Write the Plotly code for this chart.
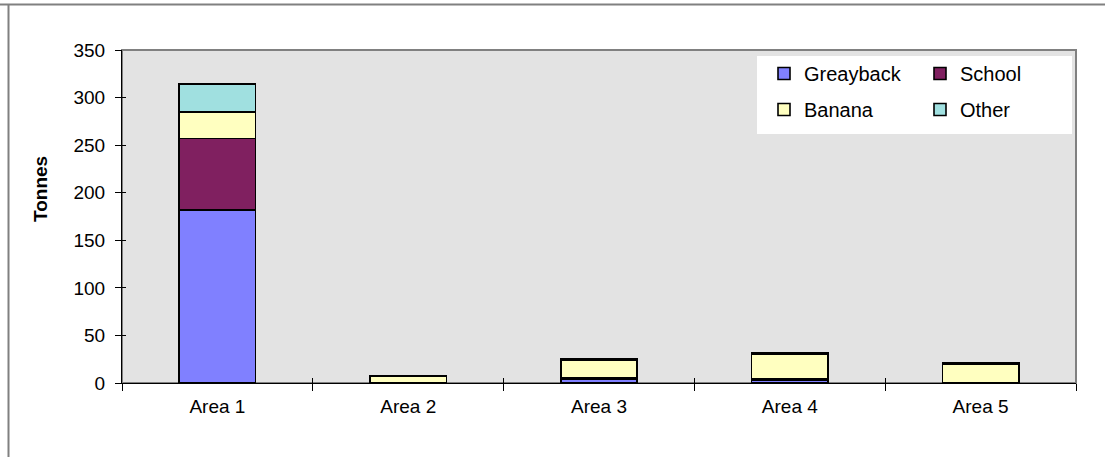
import plotly.graph_objects as go

# Catch by area, split by category (tonnes)
areas = ["Area 1", "Area 2", "Area 3", "Area 4", "Area 5"]
greayback = [182, 0.5, 4, 3, 0]
school = [75, 0, 1, 1, 0.5]
banana = [28, 7, 19, 26, 19.5]
other = [29, 0.5, 1.5, 1.5, 1]

y_ticks = [0, 50, 100, 150, 200, 250, 300, 350]

series = [
    ("Greayback", greayback, "#8080ff", "legend"),
    ("School", school, "#802060", "legend2"),
    ("Banana", banana, "#ffffc0", "legend"),
    ("Other", other, "#a0e0e0", "legend2"),
]

W, H = 1105, 457
ML, MR, MT, MB = 122, 29, 50, 74
PW, PH = W - ML - MR, H - MT - MB


def px_x(px):
    return (px - ML) / PW


def px_y(py):
    return (H - MB - py) / PH


FONT = "Liberation Sans, Arial, sans-serif"
FS = 19

fig = go.Figure()
for name, vals, color, leg in series:
    fig.add_trace(go.Bar(
        name=name, x=areas, y=vals,
        marker=dict(color=color, line=dict(color="black", width=1.6)),
        legend=leg, legendgroup=name,
    ))

# overlay axes carrying the inward half of the cross ticks
fig.add_trace(go.Scatter(x=[None], y=[None], xaxis="x2", yaxis="y2",
                         showlegend=False, hoverinfo="skip"))

fig.update_layout(
    width=W, height=H, autosize=False,
    margin=dict(l=ML, r=MR, t=MT, b=MB),
    paper_bgcolor="white", plot_bgcolor="#e3e3e3",
    barmode="stack", bargap=0.6,
    font=dict(family=FONT, size=FS, color="black"),
    showlegend=True,
    xaxis=dict(
        type="category", tickson="boundaries",
        ticks="outside", ticklen=7, tickwidth=1, tickcolor="black",
        showline=True, linecolor="black", linewidth=1,
        showgrid=False, zeroline=False, ticklabelstandoff=6,
        tickfont=dict(size=FS),
    ),
    yaxis=dict(
        range=[0, 350], tickvals=y_ticks,
        ticks="outside", ticklen=6, tickwidth=1, tickcolor="black",
        showline=True, linecolor="black", linewidth=1,
        showgrid=False, zeroline=False, ticklabelstandoff=6,
        tickfont=dict(size=FS),
    ),
    xaxis2=dict(
        overlaying="x", range=[-0.5, 4.5], tickvals=[0.5, 1.5, 2.5, 3.5],
        ticks="inside", ticklen=5, tickcolor="black", showticklabels=False,
        showline=False, showgrid=False, zeroline=False, side="bottom",
    ),
    yaxis2=dict(
        overlaying="y", range=[0, 350], tickvals=y_ticks,
        ticks="inside", ticklen=4, tickcolor="black", showticklabels=False,
        showline=False, showgrid=False, zeroline=False, side="left",
    ),
    legend=dict(
        x=px_x(764), y=px_y(54), xanchor="left", yanchor="top",
        bgcolor="rgba(0,0,0,0)", traceorder="grouped", tracegroupgap=7,
        font=dict(size=20),
    ),
    legend2=dict(
        x=px_x(920), y=px_y(54), xanchor="left", yanchor="top",
        bgcolor="rgba(0,0,0,0)", traceorder="grouped", tracegroupgap=7,
        font=dict(size=20),
    ),
    annotations=[
        dict(text="<b>Tonnes</b>", textangle=-90, showarrow=False,
             xref="paper", yref="paper", x=px_x(40), y=px_y(189),
             xanchor="center", yanchor="middle", font=dict(size=FS)),
    ],
    shapes=[
        # plot-area frame
        dict(type="rect", xref="paper", yref="paper", x0=0, x1=1, y0=0, y1=1,
             line=dict(color="#808080", width=2), layer="below"),
        # legend panel
        dict(type="rect", xref="paper", yref="paper",
             x0=px_x(757), x1=px_x(1072), y0=px_y(134), y1=px_y(56),
             fillcolor="white", line=dict(width=0), layer="below"),
        # outer chart frame
        dict(type="line", xref="paper", yref="paper",
             x0=px_x(0), x1=px_x(W), y0=px_y(4.5), y1=px_y(4.5),
             line=dict(color="#808080", width=2)),
        dict(type="line", xref="paper", yref="paper",
             x0=px_x(8.5), x1=px_x(8.5), y0=px_y(4), y1=px_y(H),
             line=dict(color="#808080", width=2)),
    ],
)

fig.write_html("out.html")
